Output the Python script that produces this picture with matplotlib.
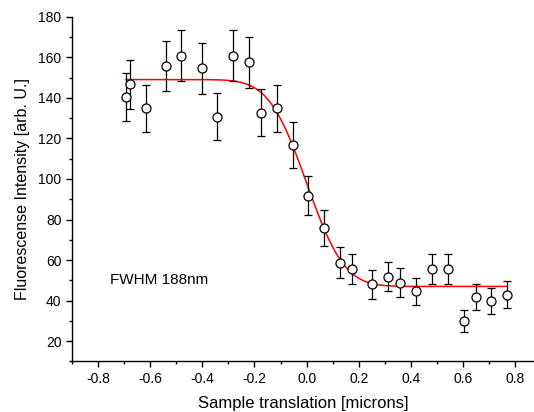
import math
import numpy as np
import matplotlib
matplotlib.use("Agg")
import matplotlib.pyplot as plt
from matplotlib.ticker import MultipleLocator

plt.rcParams['font.family'] = ['Liberation Sans', 'DejaVu Sans']

# measured points: sample position [microns], intensity, error
x_pos = [-0.693, -0.677, -0.616, -0.541, -0.481, -0.403, -0.343, -0.283, -0.221,
         -0.174, -0.114, -0.054, 0.007, 0.067, 0.128, 0.175, 0.252, 0.311, 0.358,
         0.418, 0.480, 0.541, 0.602, 0.648, 0.708, 0.769]
intensity = [140.2, 146.7, 134.8, 155.7, 160.7, 154.6, 130.7, 160.7, 157.6,
             132.7, 134.8, 116.8, 91.8, 75.8, 58.7, 55.8, 48.0, 51.8, 48.9,
             44.7, 55.8, 55.8, 30.0, 41.8, 39.8, 42.9]
err = [11.8, 12.1, 11.7, 12.5, 12.6, 12.5, 11.5, 12.6, 12.6,
       11.6, 11.7, 11.2, 9.6, 8.8, 7.7, 7.4, 7.0, 7.2, 7.0,
       6.7, 7.4, 7.4, 5.4, 6.6, 6.3, 6.7]

# edge fit parameters (erf step)
fit_top = 149.0
fit_bottom = 47.0
fit_center = 0.0
fit_sigma = 0.114

xs = np.linspace(x_pos[0], x_pos[-1], 400)
erfc = np.vectorize(lambda v: math.erfc(v))
fit = fit_bottom + (fit_top - fit_bottom) * 0.5 * erfc((xs - fit_center) / (math.sqrt(2) * fit_sigma))

fig = plt.figure(figsize=(5.34, 4.12), dpi=100)
ax = fig.add_axes([0.1348, 0.1226, 1.0 - 0.1348, 0.9595 - 0.1226])

ax.plot(xs, fit, color='red', lw=1.1, zorder=2)
ax.errorbar(x_pos, intensity, yerr=err, fmt='o', ms=6.5, mfc='white', mec='black',
            mew=0.9, ecolor='black', elinewidth=0.9, capsize=2.9, capthick=0.9, zorder=3)

ax.text(-0.755, 50.2, 'FWHM 188nm', fontsize=11, ha='left', va='center')

ax.set_xlim(-0.9, 0.872)
ax.set_ylim(10, 180)
ax.xaxis.set_minor_locator(MultipleLocator(0.1))
ax.yaxis.set_minor_locator(MultipleLocator(10))
ax.set_xticks(np.arange(-0.8, 0.81, 0.2))
ax.set_xticklabels(['-0.8', '-0.6', '-0.4', '-0.2', '0.0', '0.2', '0.4', '0.6', '0.8'])
ax.set_yticks(np.arange(20, 181, 20))

for side in ['top', 'right']:
    ax.spines[side].set_visible(False)
for side in ['left', 'bottom']:
    ax.spines[side].set_linewidth(1.0)

ax.tick_params(which='major', direction='out', length=4, width=1.0, labelsize=10)
ax.tick_params(which='minor', direction='out', length=2.2, width=1.0)

ax.set_xlabel('Sample translation [microns]', fontsize=12, labelpad=7)
ax.set_ylabel('Fluorescense Intensity [arb. U.]', fontsize=11.5, labelpad=6)

fig.savefig('out.png', dpi=100, facecolor='white')
